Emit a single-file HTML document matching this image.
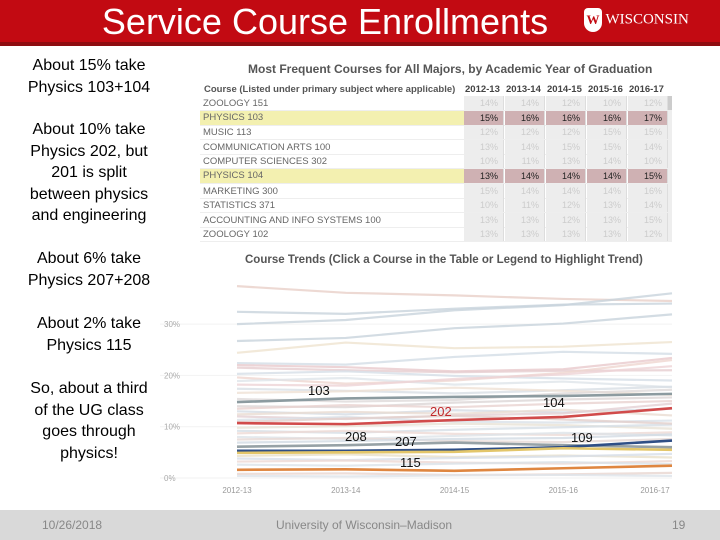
<!DOCTYPE html>
<html><head><meta charset="utf-8">
<style>
body{margin:0;width:720px;height:540px;overflow:hidden;background:#fff;font-family:"Liberation Sans",Arial,sans-serif;position:relative}
#hdr{position:absolute;left:0;top:0;width:720px;height:42px;background:#c20a12;border-bottom:4px solid #8e0c10}
#title{position:absolute;left:80px;top:1px;width:490px;text-align:center;color:#fff;font-size:36px;line-height:42px}
#logo{position:absolute;left:584px;top:8px;color:#fff;font-family:"Liberation Serif",serif;font-size:15px;letter-spacing:0px}
#left{position:absolute;left:8px;top:0;width:162px;text-align:center;font-size:16px;line-height:21.5px;color:#000}
#left div{position:absolute;left:0;width:162px;white-space:nowrap}
#foot{position:absolute;left:0;top:510px;width:720px;height:30px;background:#d9d9d9;color:#888;font-size:12px}
#foot span{position:absolute;top:8px}
.tt{position:absolute;font-size:12px;font-weight:bold;color:#555;white-space:nowrap}
.row{position:absolute;left:200px;width:468px;height:14px;font-size:9.5px;color:#666;border-bottom:1px solid #eee}
.row .nm{position:absolute;left:3px;top:2px;width:260px;white-space:nowrap}
.row .c{position:absolute;top:0;width:40px;height:14px;background:#ededed;color:#ccc;text-align:right;font-size:9px;line-height:14px;border-right:1px solid #ddd;box-sizing:border-box;padding-right:5px}
.hl .nm{background:#f3f0b0;left:0;padding-left:3px;top:0;height:14px;line-height:14px;width:261px}
.hl .c{background:#cfb1b3;color:#222}
</style></head><body>
<div id="hdr">
<div id="title">Service Course Enrollments</div>
<div id="logo"><span style="display:inline-block;width:18px;height:24px;background:#fff;border-radius:4px 4px 9px 9px;vertical-align:middle;color:#c20a12;text-align:center;font-weight:bold;font-size:13px;line-height:24px">W</span> WISCONSIN</div>
</div>
<div id="left">
<div style="top:55px">About 15% take<br>Physics 103+104</div>
<div style="top:119px">About 10% take<br>Physics 202, but<br>201 is split<br>between physics<br>and engineering</div>
<div style="top:248px">About 6% take<br>Physics 207+208</div>
<div style="top:313px">About 2% take<br>Physics 115</div>
<div style="top:378px">So, about a third<br>of the UG class<br>goes through<br>physics!</div>
</div>
<div class="tt" style="left:248px;top:62px">Most Frequent Courses for All Majors, by Academic Year of Graduation</div>
<div class="tt" style="left:204px;top:84px;font-size:9.5px">Course (Listed under primary subject where applicable)</div>
<div id="tablerows"></div>
<div style="position:absolute;left:668px;top:96px;width:4px;height:146px;background:#eee"></div>
<div style="position:absolute;left:668px;top:96px;width:4px;height:14px;background:#ccc"></div>
<div class="tt" style="left:245px;top:254px;font-size:11.5px">Course Trends (Click a Course in the Table or Legend to Highlight Trend)</div>
<svg id="chart" width="720" height="540" style="position:absolute;left:0;top:0"></svg>
<div id="foot">
<span style="left:42px">10/26/2018</span>
<span style="left:276px">University of Wisconsin–Madison</span>
<span style="left:672px">19</span>
</div>
<script>
const years=["2012-13","2013-14","2014-15","2015-16","2016-17"];
const courses=["ZOOLOGY 151","PHYSICS 103","MUSIC 113","COMMUNICATION ARTS 100","COMPUTER SCIENCES 302","PHYSICS 104","MARKETING 300","STATISTICS 371","ACCOUNTING AND INFO SYSTEMS 100","ZOOLOGY 102"];
const tableVals=[[14,14,12,10,12],[15,16,16,16,17],[12,12,12,15,15],[13,14,15,15,14],[10,11,13,14,10],[13,14,14,14,15],[15,14,14,14,16],[10,11,12,13,14],[13,13,12,13,15],[13,13,13,13,12]];
const highlighted=[1,5];
const yTicks=[0,10,20,30];
const bgSeries=[
[37.4,36.1,35.6,34.9,34.5],[32.4,32.0,33.0,33.8,34.0],[30,30.8,32.7,33.7,36.0],[26.7,27.3,29.2,30.1,31.9],
[24.4,26.4,25.3,25.6,26.5],[22.4,22.1,23.6,24.6,24.2],[22.0,21.6,20.8,21.2,23.4],[21.5,21.0,20.6,20.9,21.0],
[20.3,20.8,19.9,19.4,19.0],[19.6,18.4,19.0,20.5,23.0],[18.9,19.5,18.2,18.8,17.7],[18.2,18.0,19.3,20.2,21.8],
[17.4,17.0,16.5,17.1,17.8],[16.6,16.9,17.6,17.0,16.2],[14.0,13.8,14.7,15.3,15.7],[13.5,14.2,13.8,14.5,15.0],
[13.0,12.4,13.2,12.8,13.5],[12.4,12.9,12.5,13.3,12.2],[12.0,11.5,12.2,12.6,14.5],[11.3,11.9,11.0,10.8,11.2],
[9.8,10.1,10.6,10.3,9.6],[9.2,8.8,9.4,9.9,10.4],[8.7,9.2,8.6,8.4,8.9],[8.0,7.6,8.2,8.8,8.3],
[7.5,7.8,7.2,7.0,7.6],[6.9,7.2,7.6,7.8,8.5],[4.3,4.6,4.1,4.4,4.0],[3.8,3.5,3.9,4.2,4.7],
[3.2,3.4,3.0,2.8,3.3],[2.6,2.4,2.8,3.1,2.7],[0.8,0.9,0.6,0.7,1.0],[0.4,0.3,0.5,0.6,0.4],[15.4,14.9,15.2,16.5,17.2],[10.9,11.6,12.1,11.4,10.6]];
const bgColors=["#e8cfc8","#c8d3dc","#c8d3dc","#c8d3dc","#efe4d0","#d3dde6","#e9c9cc","#e6cdd0","#d6dfe7","#efd6d0","#dfe5ea","#edd3d6","#d8dfe5","#efe1d5","#dcd6d6","#e9d2cf","#d4dce5","#eadcd2","#e4d0d3","#d9e1e8","#e8e2d6","#d6dee6","#eedad5","#dde3e9","#e6d8d4","#d2dbe3","#e9e0c9","#d7dfe8","#eed8d3","#dbe2e8","#e8d6cf","#dde4ea","#dedada","#e2d0cc"];
const hlNames=["103","202","208","109","yellow","115"];
const hlValues=[[14.8,15.5,15.8,16.0,16.4],[10.7,10.5,11.3,11.9,13.6],[6.1,6.4,6.9,6.4,6.0],[5.3,5.3,5.5,6.0,7.3],[4.9,5.0,5.1,5.8,5.5],[1.6,1.7,1.4,1.9,2.4]];
const hlColors=["#8c9ba0","#d14b4b","#97a2a6","#2f4f86","#e3c66a","#df8640"];
const labels=[["103",308,395],["202",430,416,"#c0282b"],["104",543,407],["208",345,441],["207",395,446],["109",571,442],["115",400,467]];

const tr=document.getElementById('tablerows');
const cellX=[464,505,546,587,628];
years.forEach((y,i)=>{const d=document.createElement('div');d.className='tt';d.style.cssText=`left:${cellX[i]+1}px;top:84px;font-size:9.5px;color:#444`;d.textContent=y;


tr.appendChild(d);});
courses.forEach((c,r)=>{const row=document.createElement('div');row.className='row'+(highlighted.includes(r)?' hl':'');row.style.top=(96+r*14.6)+'px';


const nm=document.createElement('div');nm.className='nm';nm.textContent=c;row.appendChild(nm);
tableVals[r].forEach((v,i)=>{const cc=document.createElement('div');cc.className='c';cc.style.left=(cellX[i]-200)+'px';cc.textContent=v+'%';


row.appendChild(cc);});
tr.appendChild(row);});

const svg=document.getElementById('chart');const NS='http://www.w3.org/2000/svg';
const x0=237,x1=672,y0=478,yScale=5.13;
const X=i=>x0+i*(x1-x0)/(years.length-1);
const Y=v=>y0-v*yScale;
function mk(t,a){const e=document.createElementNS(NS,t);for(const k in a)e.setAttribute(k,a[k]);svg.appendChild(e);return e;}
yTicks.forEach(t=>{const l=mk('line',{x1:160,x2:x1,y1:Y(t),y2:Y(t),stroke:'#f2f2f2'});


const tx=mk('text',{x:164,y:Y(t)+3,'font-size':8,fill:'#aaa','font-family':'Liberation Sans'});tx.textContent=t+'%';

});
years.forEach((y,i)=>{const tx=mk('text',{x:X(i)-(i==4?17:0),y:493,'font-size':8,fill:'#999','text-anchor':'middle','font-family':'Liberation Sans'});tx.textContent=y;

});
const pts=s=>s.map((v,i)=>X(i)+','+Y(v)).join(' ');
bgSeries.forEach((s,k)=>{const p=mk('polyline',{points:pts(s),fill:'none',stroke:bgColors[k],'stroke-width':2.2,opacity:0.8});

});
hlValues.forEach((s,k)=>{const p=mk('polyline',{points:pts(s),fill:'none',stroke:hlColors[k],'stroke-width':2.6});

});
labels.forEach(l=>{const t=mk('text',{x:l[1],y:l[2],'font-size':13,fill:l[3]||'#111','font-family':'Liberation Sans'});t.textContent=l[0];

});
</script>
</body></html>
